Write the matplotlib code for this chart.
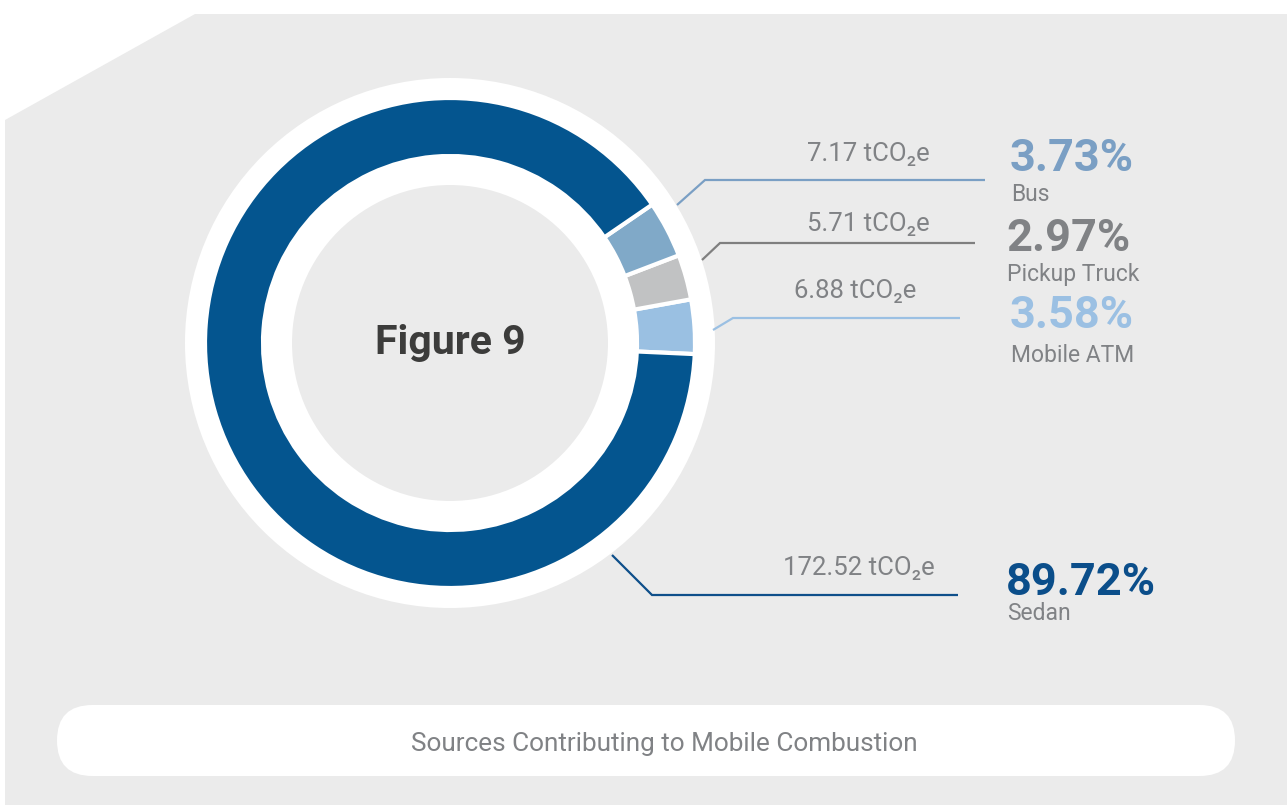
import matplotlib.pyplot as plt
from matplotlib.patches import Polygon, Circle, FancyBboxPatch

plt.rcParams['font.family'] = ['Roboto', 'DejaVu Sans']

# emissions by vehicle type (tCO2e), in drawing order around the ring
sources = ["Mobile ATM", "Pickup Truck", "Bus", "Sedan"]
emissions = [6.88, 5.71, 7.17, 172.52]
wedge_colors = ["#9ac0e2", "#c1c2c3", "#80a9c8", "#04558f"]
text_colors = ["#9bc0e3", "#808285", "#7a9fc4", "#0b4e8a"]
line_colors = ["#9bc0e3", "#7f7f7f", "#7a9fc4", "#0e4f8a"]

W, H = 1287, 809
fig = plt.figure(figsize=(W / 100, H / 100), dpi=100)
ax = fig.add_axes([0, 0, 1, 1])

# grey card with the clipped corner
ax.add_patch(Polygon([(5, 689), (195, 795), (W, 795), (W, 4), (5, 4)],
                     closed=True, fc="#ebebeb", ec="none", zorder=0))

cx, cy = 450, 466
ax.add_patch(Circle((cx, cy), 265, fc="white", ec="none", zorder=1))
ax.pie(emissions, colors=wedge_colors, startangle=-2.6, counterclock=True,
       radius=245, center=(cx, cy), frame=True,
       wedgeprops=dict(width=58, edgecolor="white", linewidth=3))
ax.add_patch(Circle((cx, cy), 187, fc="white", ec="none", zorder=3))
ax.add_patch(Circle((cx, cy), 158, fc="#ebebeb", ec="none", zorder=4))
ax.set_xlim(0, W)
ax.set_ylim(0, H)
ax.set_aspect("equal")
ax.axis("off")

ax.text(cx, cy, "Figure 9", ha="center", va="center", fontsize=29.5,
        fontweight="bold", color="#3c3c3b", zorder=5)

total = sum(emissions)

# leader lines: start at ring, elbow, end under the value label
leaders = [
    [(713, 479), (733, 491), (960, 491)],
    [(702, 549), (720, 566), (975, 566)],
    [(677, 604), (705, 629), (985, 629)],
    [(612, 254), (652, 214), (958, 214)],
]
value_pos = [(916, 518), (930, 585), (930, 655), (935, 241)]
pct_pos = [(1010, 493), (1006, 570), (1010, 650), (1006, 226)]
name_pos = [(1011, 454), (1007, 535), (1011, 615), (1007, 195)]

for i, name in enumerate(sources):
    xs, ys = zip(*leaders[i])
    ax.plot(xs, ys, color=line_colors[i], lw=1.6, solid_capstyle="butt",
            solid_joinstyle="miter", zorder=2)
    vx, vy = value_pos[i]
    ax.text(vx, vy, f"{emissions[i]:.2f} tCO₂e", ha="right", va="center",
            fontsize=18.5, color="#808285")
    px, py = pct_pos[i]
    ax.text(px, py, f"{emissions[i] / total * 100:.2f}%", ha="left",
            va="center", fontsize=32.5, fontweight="bold", color=text_colors[i])
    nx, ny = name_pos[i]
    ax.text(nx, ny, name, ha="left", va="center", fontsize=16.5,
            color="#808285")

# caption pill
ax.add_patch(FancyBboxPatch((57, 33), 1178, 71,
                            boxstyle="round,pad=0,rounding_size=35.5",
                            fc="white", ec="none", zorder=1))
ax.text(664, 65, "Sources Contributing to Mobile Combustion", ha="center",
        va="center", fontsize=18.8, color="#808285", zorder=2)

fig.savefig("out.png", dpi=100, facecolor="white")
